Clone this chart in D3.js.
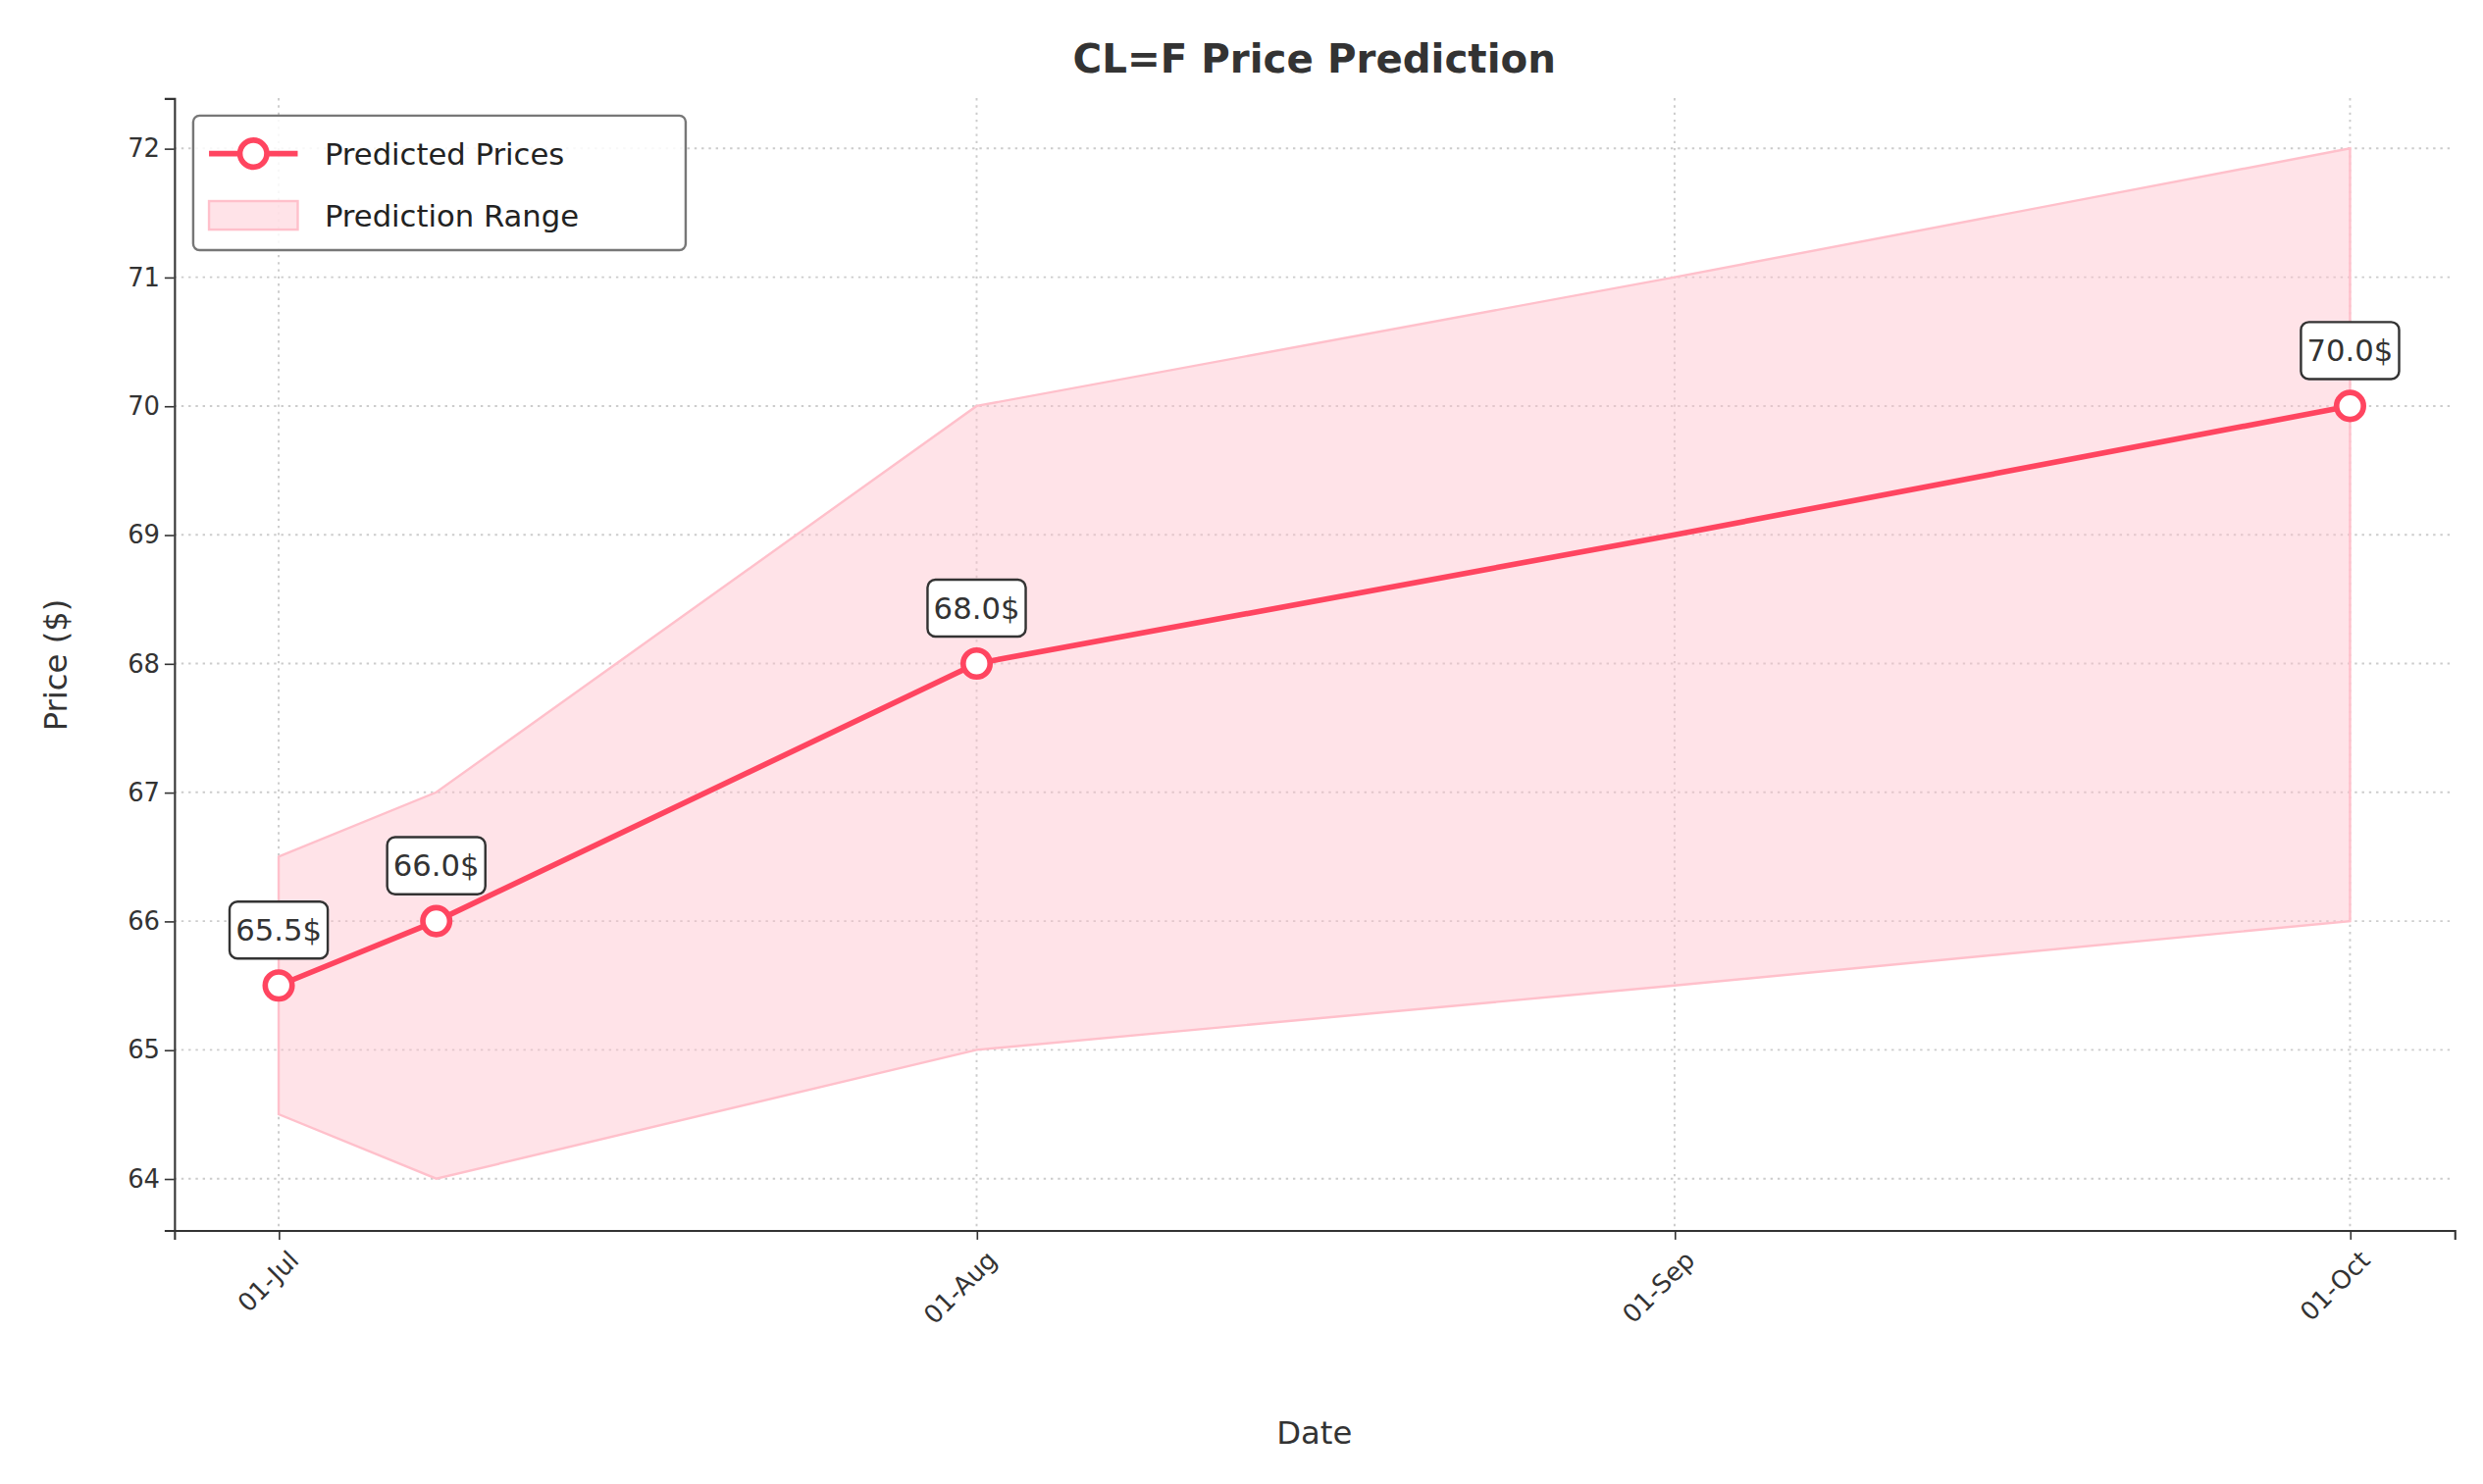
<!DOCTYPE html>
<html>
<head>
<meta charset="utf-8">
<script src="https://cdn.jsdelivr.net/npm/d3@7"></script>
<style>
html,body{margin:0;padding:0;background:#fff;}
svg{display:block;font-family:"DejaVu Sans",sans-serif;}
</style>
</head>
<body>
<svg id="chart" width="2531" height="1513" viewBox="0 0 1568 937.3"></svg>
<script>
// data
var predDates = ["2024-07-01", "2024-07-08", "2024-08-01", "2024-10-01"];
var predValues = [65.5, 66.0, 68.0, 70.0];
var rangeDates = ["2024-07-01", "2024-07-08", "2024-08-01", "2024-09-01", "2024-10-01"];
var rangeUpper = [66.5, 67.0, 70.0, 71.0, 72.0];
var rangeLower = [64.5, 64.0, 65.0, 65.5, 66.0];
var lineDates = ["2024-07-01", "2024-07-08", "2024-08-01", "2024-09-01", "2024-10-01"];
var lineValues = [65.5, 66.0, 68.0, 69.0, 70.0];
var xTicks = ["2024-07-01", "2024-08-01", "2024-09-01", "2024-10-01"];
var yTicks = [64, 65, 66, 67, 68, 69, 70, 71, 72];

var parse = d3.timeParse("%Y-%m-%d");
var svg = d3.select("#chart");
var pLeft = 110, pRight = 1550, pTop = 62, pBottom = 777;
var red = "#ff4560";
var DAY = 864e5;

var x = d3.scaleTime()
  .domain([new Date(+parse("2024-07-01") - 4.64 * DAY), new Date(+parse("2024-10-01") + 4.64 * DAY)])
  .range([pLeft, pRight]);
var y = d3.scaleLinear().domain([63.6, 72.39]).range([pBottom, pTop]);

// grid
svg.append("g").selectAll("line").data(xTicks).enter().append("line")
  .attr("x1", function(d){ return x(parse(d)); }).attr("x2", function(d){ return x(parse(d)); })
  .attr("y1", pTop).attr("y2", pBottom)
  .attr("stroke", "#cccccc").attr("stroke-dasharray", "1.5,3").attr("stroke-width", 1.2);
svg.append("g").selectAll("line").data(yTicks).enter().append("line")
  .attr("x1", pLeft).attr("x2", pRight)
  .attr("y1", function(d){ return y(d); }).attr("y2", function(d){ return y(d); })
  .attr("stroke", "#cccccc").attr("stroke-dasharray", "1.5,3").attr("stroke-width", 1.2);

// range
var band = rangeDates.map(function(d, i){ return {d: parse(d), lo: rangeLower[i], hi: rangeUpper[i]}; });
svg.append("path").datum(band)
  .attr("d", d3.area().x(function(d){ return x(d.d); }).y0(function(d){ return y(d.lo); }).y1(function(d){ return y(d.hi); }))
  .attr("fill", "#ffc0cb").attr("fill-opacity", 0.45)
  .attr("stroke", "#ffc0cb").attr("stroke-width", 1.5);

// line
var pts = lineDates.map(function(d, i){ return {d: parse(d), v: lineValues[i]}; });
svg.append("path").datum(pts)
  .attr("d", d3.line().x(function(d){ return x(d.d); }).y(function(d){ return y(d.v); }))
  .attr("fill", "none").attr("stroke", red).attr("stroke-width", 3.5);

var mk = predDates.map(function(d, i){ return {d: parse(d), v: predValues[i]}; });
svg.append("g").selectAll("circle").data(mk).enter().append("circle")
  .attr("cx", function(d){ return x(d.d); }).attr("cy", function(d){ return y(d.v); })
  .attr("r", 8.5).attr("fill", "#fff").attr("stroke", red).attr("stroke-width", 3.5);

// annotations
var ann = svg.append("g").selectAll("g").data(mk).enter().append("g")
  .attr("transform", function(d){ return "translate(" + x(d.d) + "," + (y(d.v) - 35) + ")"; });
ann.append("rect").attr("x", -31).attr("y", -18).attr("width", 62).attr("height", 36).attr("rx", 5)
  .attr("fill", "#fff").attr("stroke", "#333").attr("stroke-width", 1.5);
ann.append("text").attr("text-anchor", "middle").attr("dy", "0.35em")
  .attr("font-size", 19).attr("fill", "#333").text(function(d){ return d.v.toFixed(1) + "$"; });

// axes
var fmt = d3.timeFormat("%d-%b");
var xa = svg.append("g").attr("transform", "translate(0," + pBottom + ")")
  .call(d3.axisBottom(x).tickValues(xTicks.map(parse)).tickFormat(fmt).tickSizeOuter(0).tickSize(6));
xa.selectAll("text").attr("font-size", 16).attr("fill", "#333")
  .attr("text-anchor", "end").attr("transform", "rotate(-45)").attr("dx", "-0.3em").attr("dy", "0.9em");
var ya = svg.append("g").attr("transform", "translate(" + pLeft + ",0)")
  .call(d3.axisLeft(y).tickValues(yTicks).tickSizeOuter(0).tickSize(6));
ya.selectAll("text").attr("font-size", 16).attr("fill", "#333");
svg.selectAll(".domain").attr("stroke", "#333").attr("stroke-width", 1.3);
svg.selectAll(".tick line").attr("stroke", "#333");
svg.selectAll(".tick text").attr("font-family", "DejaVu Sans");

// labels
svg.append("text").attr("x", 830).attr("y", 46).attr("text-anchor", "middle")
  .attr("font-size", 25).attr("font-weight", "bold").attr("fill", "#333").text("CL=F Price Prediction");
svg.append("text").attr("x", 830).attr("y", 912).attr("text-anchor", "middle")
  .attr("font-size", 20).attr("fill", "#333").text("Date");
svg.append("text").attr("transform", "translate(42,420) rotate(-90)").attr("text-anchor", "middle")
  .attr("font-size", 20).attr("fill", "#333").text("Price ($)");

// legend
var lg = svg.append("g");
lg.append("rect").attr("x", 122).attr("y", 73).attr("width", 311).attr("height", 85).attr("rx", 4)
  .attr("fill", "#fff").attr("fill-opacity", 0.85).attr("stroke", "#777").attr("stroke-width", 1.5);
lg.append("line").attr("x1", 132).attr("x2", 188).attr("y1", 97).attr("y2", 97).attr("stroke", red).attr("stroke-width", 3.5);
lg.append("circle").attr("cx", 160).attr("cy", 97).attr("r", 8.5).attr("fill", "#fff").attr("stroke", red).attr("stroke-width", 3.5);
lg.append("rect").attr("x", 132).attr("y", 127).attr("width", 56).attr("height", 18)
  .attr("fill", "#ffc0cb").attr("fill-opacity", 0.45).attr("stroke", "#ffc0cb").attr("stroke-width", 1.5);
lg.append("text").attr("x", 205).attr("y", 104).attr("font-size", 19).attr("fill", "#222").text("Predicted Prices");
lg.append("text").attr("x", 205).attr("y", 143).attr("font-size", 19).attr("fill", "#222").text("Prediction Range");
</script>
</body>
</html>
